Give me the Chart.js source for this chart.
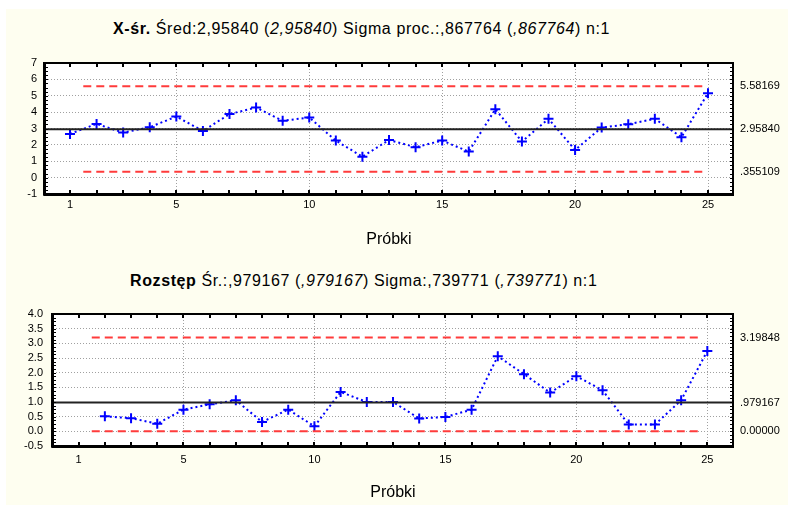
<!DOCTYPE html>
<html>
<head>
<meta charset="utf-8">
<script src="https://cdn.jsdelivr.net/npm/chart.js@4.4.0/dist/chart.umd.min.js"></script>
<style>
  html, body { margin: 0; padding: 0; background: #fff; }
  #page { position: relative; width: 788px; height: 505px; overflow: hidden; }
  #bg { position: absolute; left: 6px; top: 9px; right: 0; bottom: 0; background: #fefef0; }
  canvas { position: absolute; left: 0; }
  .title { position: absolute; font-family: "Liberation Sans", Arial, sans-serif; font-size: 16px; letter-spacing: 0.6px; color: #000; white-space: nowrap; }
  .title b { font-weight: bold; }
</style>
</head>
<body>
<div id="page">
  <div id="bg"></div>
  <div class="title" id="t1" style="left:113px; top:20px;"><b>X-śr.</b> Śred:2,95840 (<i>2,95840</i>) Sigma proc.:,867764 (<i>,867764</i>) n:1</div>
  <canvas id="xbarChart" style="top:0px"></canvas>
  <div class="title" id="t2" style="left:130px; top:272px;"><b>Rozstęp</b> Śr.:,979167 (<i>,979167</i>) Sigma:,739771 (<i>,739771</i>) n:1</div>
  <canvas id="rangeChart" style="top:255px"></canvas>
</div>
<script>
// X-bar chart data
const samples = [1, 2, 3, 4, 5, 6, 7, 8, 9, 10, 11, 12, 13, 14, 15, 16, 17, 18, 19, 20, 21, 22, 23, 24, 25];
const xbarValues = [2.67, 3.28, 2.75, 3.08, 3.73, 2.85, 3.88, 4.28, 3.47, 3.67, 2.26, 1.28, 2.30,
                    1.86, 2.26, 1.59, 4.18, 2.20, 3.59, 1.69, 3.06, 3.26, 3.59, 2.47, 5.16];
const xbarLimits = [5.58169, 2.95840, 0.355109];   // UCL, CL, LCL
const xbarLimitLabels = ['5.58169', '2.95840', '.355109'];

// Range chart data (moving range starts at sample 2)
const rangeSamples = [2, 3, 4, 5, 6, 7, 8, 9, 10, 11, 12, 13, 14, 15, 16, 17, 18, 19, 20, 21, 22, 23, 24, 25];
const rangeValues = [0.51, 0.45, 0.26, 0.74, 0.92, 1.06, 0.32, 0.74, 0.17, 1.34, 1.00, 1.00,
                     0.44, 0.49, 0.74, 2.56, 1.95, 1.32, 1.88, 1.40, 0.23, 0.23, 1.06, 2.74];
const rangeLimits = [3.19848, 0.979167, 0.0];
const rangeLimitLabels = ['3.19848', '.979167', '0.00000'];

const xLabelTicks = [1, 5, 10, 15, 20, 25];
const limitSpan = [1.5, 24.8];

const FONT = '"Liberation Sans", Arial, sans-serif';

const framePlugin = {
  id: 'frame',
  beforeDraw(chart) {
    const { ctx, chartArea: a } = chart;
    ctx.save();
    ctx.fillStyle = '#ffffff';
    ctx.fillRect(a.left, a.top, a.width, a.height);
    ctx.restore();
  },
  afterDraw(chart, args, opts) {
    const { ctx, chartArea: a, scales } = chart;
    const x = scales.x, y = scales.y;
    ctx.save();
    ctx.strokeStyle = '#000';
    // x ticks, inward, top and bottom
    ctx.lineWidth = 2;
    ctx.beginPath();
    x.ticks.forEach(t => {
      const px = Math.round(x.getPixelForValue(t.value));
      ctx.moveTo(px, a.top); ctx.lineTo(px, a.top + 4);
      ctx.moveTo(px, a.bottom); ctx.lineTo(px, a.bottom - 4);
    });
    ctx.stroke();
    // y minor ticks, inward, left and right
    ctx.lineWidth = 1;
    ctx.beginPath();
    for (let v = y.min; v <= y.max + 1e-9; v += opts.minorStep) {
      const py = Math.round(y.getPixelForValue(v)) + 0.5;
      ctx.moveTo(a.left, py); ctx.lineTo(a.left + 3, py);
      ctx.moveTo(a.right, py); ctx.lineTo(a.right - 3, py);
    }
    ctx.stroke();
    // frame
    ctx.lineWidth = 2;
    ctx.strokeRect(a.left, a.top, a.width, a.height);
    ctx.lineWidth = 1;
    ctx.beginPath();
    ctx.moveTo(a.left - 1.5, a.top - 1);
    ctx.lineTo(a.left - 1.5, a.bottom + 1.5);
    ctx.lineTo(a.right + 1, a.bottom + 1.5);
    ctx.stroke();
    ctx.restore();
  }
};

function limitDataset(value, color, dash, xmin, xmax) {
  return {
    data: [{ x: xmin, y: value }, { x: xmax, y: value }],
    borderColor: color,
    borderWidth: 2,
    borderDash: dash,
    pointRadius: 0,
    fill: false
  };
}

function makeChart(id, cfg) {
  const canvas = document.getElementById(id);
  canvas.width = 788;
  canvas.height = cfg.height;
  canvas.style.width = '788px';
  canvas.style.height = cfg.height + 'px';

  const points = cfg.xs.map((s, i) => ({ x: s, y: cfg.values[i] }));
  const red = '#ff3b3b';

  return new Chart(canvas.getContext('2d'), {
    type: 'line',
    data: {
      datasets: [
        limitDataset(cfg.limits[1], '#222222', [], cfg.xRange[0], cfg.xRange[1]),
        limitDataset(cfg.limits[0], red, [8, 5], limitSpan[0], limitSpan[1]),
        limitDataset(cfg.limits[2], red, [8, 5], limitSpan[0], limitSpan[1]),
        {
          data: points,
          borderColor: '#0000ff',
          borderWidth: 2,
          borderDash: [2, 3],
          pointStyle: 'cross',
          pointRadius: 5,
          pointBorderWidth: 2,
          pointBorderColor: '#0000ff',
          fill: false,
          tension: 0
        }
      ]
    },
    options: {
      responsive: false,
      animation: false,
      events: [],
      layout: { padding: { top: cfg.padTop, left: 0, right: 0, bottom: 0 } },
      plugins: {
        legend: { display: false },
        tooltip: { enabled: false },
        frame: { minorStep: cfg.minorStep }
      },
      scales: {
        x: {
          type: 'linear',
          min: cfg.xRange[0],
          max: cfg.xRange[1],
          afterBuildTicks: (s) => { s.ticks = samples.map(v => ({ value: v })); },
          afterFit: (s) => { s.height = cfg.xAxisHeight; },
          ticks: {
            autoSkip: false,
            maxRotation: 0,
            padding: cfg.xTickPad,
            color: '#000',
            font: { family: FONT, size: 11 },
            callback: (v) => xLabelTicks.includes(v) ? String(v) : ''
          },
          grid: {
            drawTicks: false,
            color: (c) => (c.tick && xLabelTicks.includes(c.tick.value) && c.tick.value !== 1) ? '#a0a0a0' : 'rgba(0,0,0,0)',
            lineWidth: 1
          },
          border: { display: false, dash: [1, 2] },
          title: {
            display: true,
            text: 'Próbki',
            color: '#000',
            font: { family: FONT, size: 16 },
            padding: { top: 0, bottom: cfg.titlePad }
          }
        },
        y: {
          type: 'linear',
          position: 'left',
          min: cfg.yRange[0],
          max: cfg.yRange[1],
          afterFit: (s) => { s.width = cfg.leftWidth; },
          ticks: {
            stepSize: cfg.yStep,
            autoSkip: false,
            padding: cfg.yTickPad,
            color: '#000',
            font: { family: FONT, size: 11 },
            callback: cfg.yFormat
          },
          grid: {
            drawTicks: false,
            color: (c) => (c.tick && c.tick.value > cfg.yRange[0] && c.tick.value < cfg.yRange[1]) ? '#a0a0a0' : 'rgba(0,0,0,0)',
            lineWidth: 1
          },
          border: { display: false, dash: [1, 2] }
        },
        y2: {
          type: 'linear',
          position: 'right',
          min: cfg.yRange[0],
          max: cfg.yRange[1],
          afterBuildTicks: (s) => { s.ticks = cfg.limits.map(v => ({ value: v })); },
          afterFit: (s) => { s.width = 55; },
          ticks: {
            autoSkip: false,
            padding: 7,
            color: '#000',
            font: { family: FONT, size: 11 },
            callback: (v, i) => cfg.limitLabels[i]
          },
          grid: { drawOnChartArea: false, drawTicks: false },
          border: { display: false }
        }
      }
    },
    plugins: [framePlugin]
  });
}

makeChart('xbarChart', {
  height: 255,
  padTop: 63,
  xAxisHeight: 61,
  xTickPad: 4,
  titlePad: 6,
  leftWidth: 45,
  yTickPad: 8,
  xRange: [0.06, 25.94],
  yRange: [-1, 7],
  yStep: 1,
  minorStep: 0.25,
  yFormat: (v) => String(v),
  xs: samples,
  values: xbarValues,
  limits: xbarLimits,
  limitLabels: xbarLimitLabels
});

makeChart('rangeChart', {
  height: 250,
  padTop: 59,
  xAxisHeight: 59,
  xTickPad: 7,
  titlePad: 3,
  leftWidth: 53,
  yTickPad: 10,
  xRange: [0.02, 25.98],
  yRange: [-0.5, 4],
  yStep: 0.5,
  minorStep: 0.125,
  yFormat: (v) => v.toFixed(1),
  xs: rangeSamples,
  values: rangeValues,
  limits: rangeLimits,
  limitLabels: rangeLimitLabels
});
</script>
</body>
</html>
